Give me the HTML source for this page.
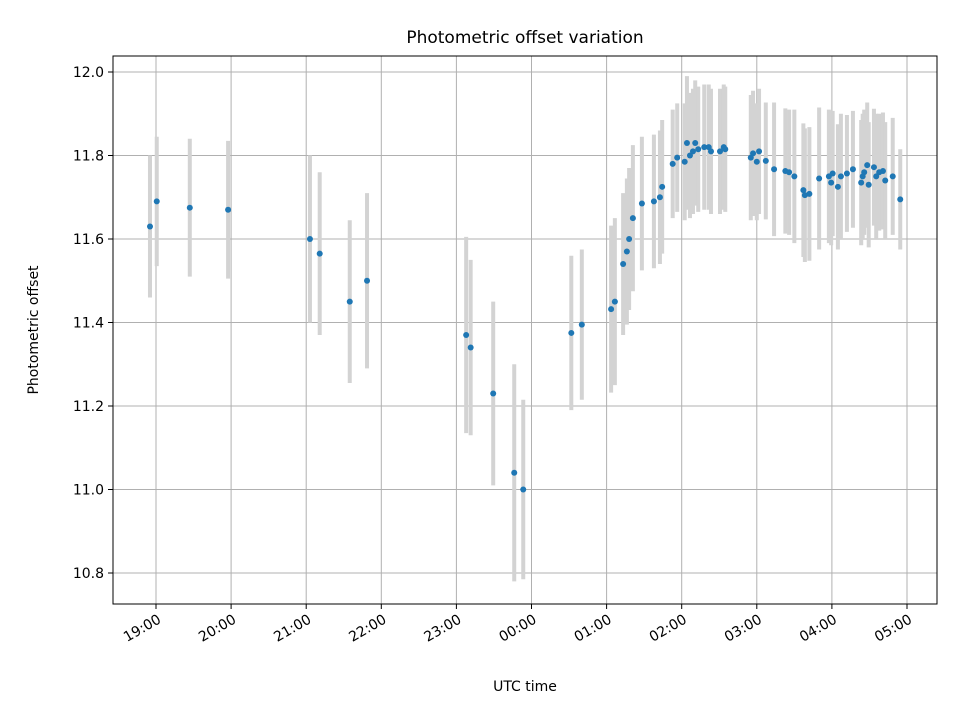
<!DOCTYPE html>
<html><head><meta charset="utf-8"><style>body{margin:0;background:#fff}svg text{font-family:"DejaVu Sans","Liberation Sans",sans-serif}</style></head>
<body>
<svg id="c" width="960" height="720"></svg>
<script>
// hours after 19:00 UTC
const times=[-0.08,0.01,0.45,0.96,2.05,2.18,2.58,2.81,4.13,4.19,4.49,4.77,4.89,5.53,5.67,6.06,6.11,6.22,6.27,6.30,6.35,6.47,6.63,6.71,6.74,6.88,6.94,7.04,7.07,7.11,7.15,7.18,7.22,7.30,7.36,7.39,7.51,7.56,7.58,7.92,7.95,8.00,8.03,8.12,8.23,8.38,8.43,8.50,8.62,8.64,8.70,8.83,8.96,8.99,9.01,9.08,9.12,9.20,9.28,9.39,9.41,9.43,9.47,9.49,9.56,9.59,9.63,9.68,9.71,9.81,9.91];
const values=[11.63,11.69,11.675,11.67,11.60,11.565,11.45,11.50,11.37,11.34,11.23,11.04,11.00,11.375,11.395,11.432,11.45,11.54,11.57,11.60,11.65,11.685,11.69,11.70,11.725,11.78,11.795,11.785,11.83,11.80,11.81,11.83,11.815,11.82,11.82,11.81,11.81,11.82,11.815,11.795,11.805,11.785,11.81,11.787,11.767,11.763,11.76,11.75,11.717,11.705,11.708,11.745,11.75,11.735,11.757,11.725,11.75,11.757,11.767,11.735,11.75,11.76,11.777,11.73,11.772,11.75,11.76,11.763,11.74,11.75,11.695];
const errors=[0.17,0.155,0.165,0.165,0.2,0.195,0.195,0.21,0.235,0.21,0.22,0.26,0.215,0.185,0.18,0.2,0.2,0.17,0.175,0.17,0.175,0.16,0.16,0.16,0.16,0.13,0.13,0.14,0.16,0.15,0.15,0.15,0.15,0.15,0.15,0.15,0.15,0.15,0.15,0.15,0.15,0.14,0.15,0.14,0.16,0.15,0.15,0.16,0.16,0.16,0.16,0.17,0.16,0.15,0.15,0.15,0.15,0.14,0.14,0.15,0.15,0.15,0.15,0.15,0.14,0.15,0.14,0.14,0.14,0.14,0.12];
const xTickLabels=["19:00","20:00","21:00","22:00","23:00","00:00","01:00","02:00","03:00","04:00","05:00"];
const yTicks=[10.8,11.0,11.2,11.4,11.6,11.8,12.0];
const L=113,R=937,T=56,B=604;
const x=h=>156+h*75.1;
const y=v=>72+(12-v)*417.5;
const svg=document.getElementById('c');const NS='http://www.w3.org/2000/svg';
function mk(t,a,p){const e=document.createElementNS(NS,t);for(const k in a)e.setAttribute(k,a[k]);(p||svg).appendChild(e);return e;}
const grid=mk('g',{});


xTickLabels.forEach((lab,i)=>{const px=x(i);
 mk('line',{x1:px,x2:px,y1:T,y2:B,stroke:'#b0b0b0','stroke-width':1},grid);
 mk('line',{x1:px,x2:px,y1:B,y2:B+5,stroke:'#000'});
 const ax=px+6,ay=B+18;
 const t=mk('text',{x:ax,y:ay,'font-size':14,'text-anchor':'end',transform:`rotate(-30 ${ax} ${ay})`});t.textContent=lab;
 
 });
yTicks.forEach(v=>{const py=y(v);
 mk('line',{x1:L,x2:R,y1:py,y2:py,stroke:'#b0b0b0','stroke-width':1},grid);
 mk('line',{x1:L-5,x2:L,y1:py,y2:py,stroke:'#000'});
 const t=mk('text',{x:L-9,y:py+5,'font-size':14,'text-anchor':'end'});t.textContent=v.toFixed(1);
 
 });
const eb=mk('g',{});


times.forEach((h,i)=>{mk('line',{x1:x(h),x2:x(h),y1:y(values[i]+errors[i]),y2:y(values[i]-errors[i]),stroke:'#d3d3d3','stroke-width':4},eb);});
const pts=mk('g',{});


times.forEach((h,i)=>{const c=mk('circle',{cx:x(h),cy:y(values[i]),r:3,fill:'#1f77b4'},pts);
 
 });
const fr=mk('rect',{x:L,y:T,width:R-L,height:B-T,fill:'none',stroke:'#000','stroke-width':1});


let t=mk('text',{x:525,y:43,'font-size':17,'text-anchor':'middle'});t.textContent='Photometric offset variation';


t=mk('text',{x:525,y:691,'font-size':14,'text-anchor':'middle'});t.textContent='UTC time';


t=mk('text',{x:38,y:330,'font-size':14,'text-anchor':'middle',transform:'rotate(-90 38 330)'});t.textContent='Photometric offset';


</script>
</body></html>
